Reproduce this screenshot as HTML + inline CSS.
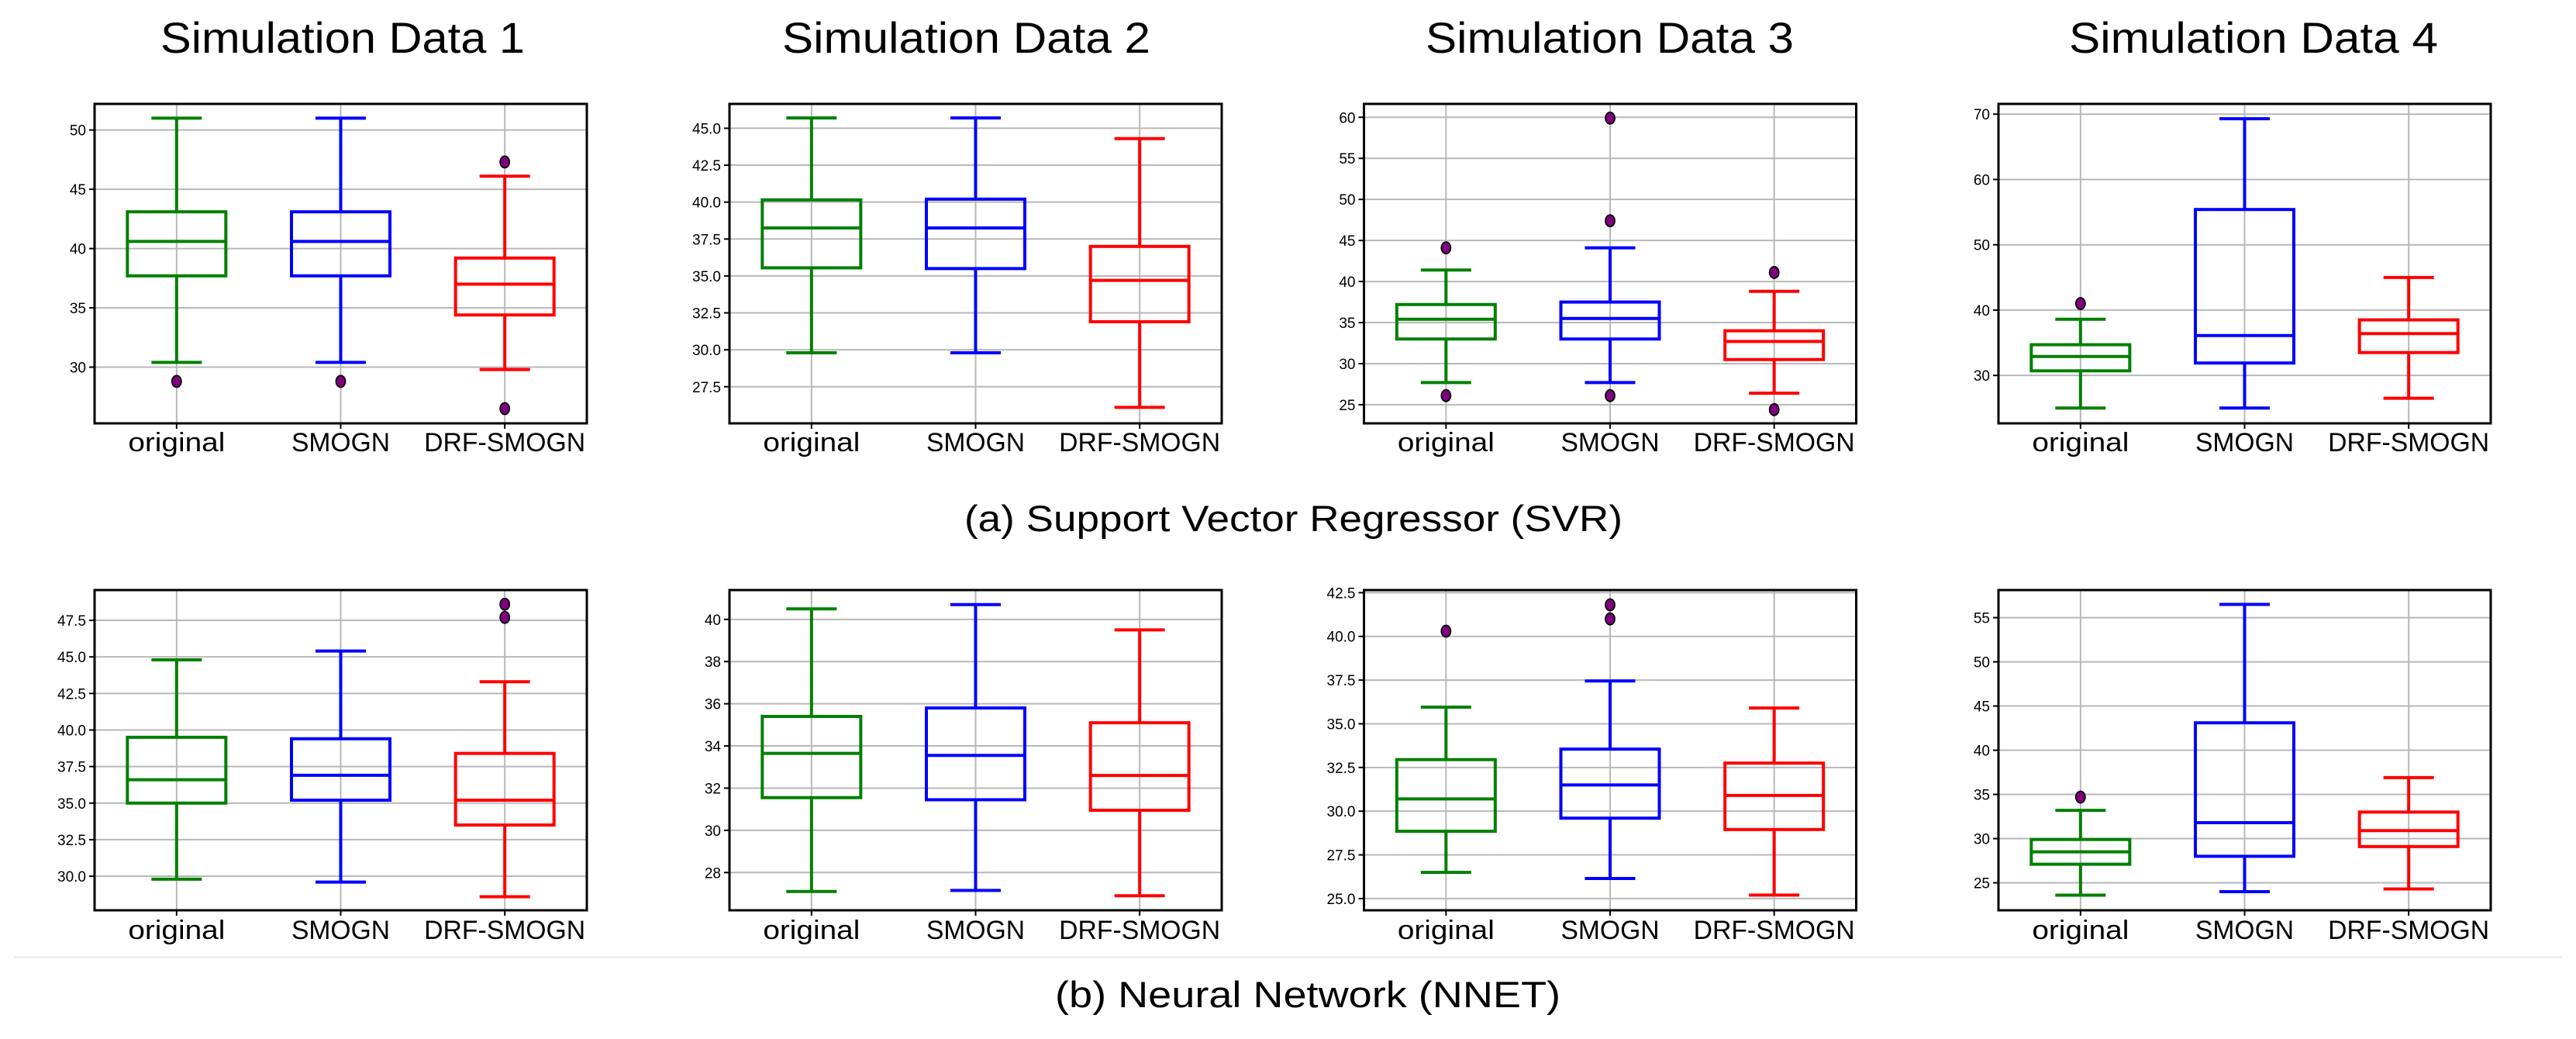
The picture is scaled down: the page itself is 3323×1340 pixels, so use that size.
<!DOCTYPE html>
<html><head><meta charset="utf-8"><style>
html,body{margin:0;padding:0;background:#fff;}
svg{display:block;}
</style></head><body>
<svg id="fig" width="3323" height="1340" viewBox="0 0 3323 1340" xmlns="http://www.w3.org/2000/svg" font-family="'Liberation Sans', 'DejaVu Sans', sans-serif">
<rect width="3323" height="1340" fill="#fff"/>
<text x="207" y="68" font-size="56" textLength="470" lengthAdjust="spacingAndGlyphs">Simulation Data 1</text>
<text x="1009" y="68" font-size="56" textLength="475" lengthAdjust="spacingAndGlyphs">Simulation Data 2</text>
<text x="1839" y="68" font-size="56" textLength="475" lengthAdjust="spacingAndGlyphs">Simulation Data 3</text>
<text x="2669" y="68" font-size="56" textLength="476" lengthAdjust="spacingAndGlyphs">Simulation Data 4</text>
<text x="1244" y="685" font-size="47" textLength="849" lengthAdjust="spacingAndGlyphs">(a) Support Vector Regressor (SVR)</text>
<line x1="18" y1="1234.5" x2="3305" y2="1234.5" stroke="#ececec" stroke-width="2"/>
<text x="1361" y="1299" font-size="47" textLength="652" lengthAdjust="spacingAndGlyphs">(b) Neural Network (NNET)</text>
</svg>
<script>
const categories = ["original", "SMOGN", "DRF-SMOGN"];
const colors = ["#008000", "#0000ff", "#ff0000"];
// each box: [lowWhisker, q1, median, q3, highWhisker]
const svr1 = [[30.4,37.7,40.6,43.1,51.0],[30.4,37.7,40.6,43.1,51.0],[29.8,34.4,37.0,39.2,46.1]];
const svr1Out = [[28.8],[28.8],[47.3,26.5]];
const svr1Ticks = [30,35,40,45,50];
const svr1Domain = [25.26,52.2];
const svr2 = [[29.8,35.55,38.25,40.15,45.7],[29.8,35.5,38.25,40.2,45.7],[26.1,31.9,34.7,37.0,44.3]];
const svr2Out = [[],[],[]];
const svr2Ticks = [27.5,30.0,32.5,35.0,37.5,40.0,42.5,45.0];
const svr2Domain = [25.02,46.65];
const svr3 = [[27.7,33.0,35.4,37.2,41.4],[27.7,33.0,35.5,37.5,44.1],[26.4,30.5,32.7,34.0,38.8]];
const svr3Out = [[44.1,26.1],[59.9,47.4,26.1],[41.1,24.4]];
const svr3Ticks = [25,30,35,40,45,50,55,60];
const svr3Domain = [22.73,61.63];
const svr4 = [[25.0,30.7,32.9,34.7,38.6],[25.0,31.9,36.1,55.4,69.3],[26.5,33.5,36.4,38.5,45.0]];
const svr4Out = [[41.0],[],[]];
const svr4Ticks = [30,40,50,60,70];
const svr4Domain = [22.66,71.57];
const nn1 = [[29.8,35.0,36.6,39.5,44.8],[29.6,35.2,36.9,39.4,45.4],[28.6,33.5,35.2,38.4,43.3]];
const nn1Out = [[],[],[48.6,47.7]];
const nn1Ticks = [30.0,32.5,35.0,37.5,40.0,42.5,45.0,47.5];
const nn1Domain = [27.67,49.57];
const nn2 = [[27.1,31.55,33.65,35.4,40.5],[27.15,31.45,33.55,35.8,40.7],[26.9,30.95,32.6,35.1,39.5]];
const nn2Out = [[],[],[]];
const nn2Ticks = [28,30,32,34,36,38,40];
const nn2Domain = [26.21,41.39];
const nn3 = [[26.5,28.85,30.7,32.95,35.95],[26.15,29.6,31.5,33.55,37.45],[25.2,28.95,30.9,32.75,35.9]];
const nn3Out = [[40.3],[41.8,41.0],[]];
const nn3Ticks = [25.0,27.5,30.0,32.5,35.0,37.5,40.0,42.5];
const nn3Domain = [24.33,42.65];
const nn4 = [[23.6,27.1,28.5,29.9,33.2],[24.0,28.0,31.8,43.1,56.5],[24.3,29.1,30.9,33.0,36.9]];
const nn4Out = [[34.7],[],[]];
const nn4Ticks = [25,30,35,40,45,50,55];
const nn4Domain = [21.89,58.12];

const NS = "http://www.w3.org/2000/svg";
const svg = document.getElementById("fig");
function mk(tag, attrs, parent){
  const e = document.createElementNS(NS, tag);
  for (const k in attrs) e.setAttribute(k, attrs[k]);
  (parent||svg).appendChild(e);
  return e;
}
const lefts = [122, 941, 1759.5, 2578];
const W = 635;
const rows = [{top:134,bottom:546,lab:582},{top:761,bottom:1174,lab:1211}];
const panels = [
 [svr1,svr1Out,svr1Ticks,svr1Domain,0,0,"svr-sim1"],
 [svr2,svr2Out,svr2Ticks,svr2Domain,0,1,"svr-sim2"],
 [svr3,svr3Out,svr3Ticks,svr3Domain,0,2,"svr-sim3"],
 [svr4,svr4Out,svr4Ticks,svr4Domain,0,3,"svr-sim4"],
 [nn1,nn1Out,nn1Ticks,nn1Domain,1,0,"nnet-sim1"],
 [nn2,nn2Out,nn2Ticks,nn2Domain,1,1,"nnet-sim2"],
 [nn3,nn3Out,nn3Ticks,nn3Domain,1,2,"nnet-sim3"],
 [nn4,nn4Out,nn4Ticks,nn4Domain,1,3,"nnet-sim4"]
];
panels.forEach(p=>{
  const [boxes,outs,ticks,dom,ri,ci,name] = p;
  const r = rows[ri], L = lefts[ci], R = L+W;
  const g = mk("g",{});
  
  
  const y = v => r.bottom - (v-dom[0])/(dom[1]-dom[0])*(r.bottom-r.top);
  const x = i => L + W*(i+0.5)/3;
  const fmt = ticks.some(t=>t%1!==0);
  ticks.forEach(t=>{
    const yy = y(t);
    const gl = mk("line",{x1:L,x2:R,y1:yy,y2:yy,stroke:"#b8b8b8","stroke-width":2},g);
    
    
    mk("line",{x1:L-7,x2:L,y1:yy,y2:yy,stroke:"#000","stroke-width":2},g);
    const tl = mk("text",{x:L-11,y:yy+7,"font-size":19,"text-anchor":"end",fill:"#000"},g);
    tl.textContent = fmt ? t.toFixed(1) : String(t);
    
    
  });
  categories.forEach((c,i)=>{
    const xx = x(i);
    mk("line",{x1:xx,x2:xx,y1:r.top,y2:r.bottom,stroke:"#b8b8b8","stroke-width":2},g);
    mk("line",{x1:xx,x2:xx,y1:r.bottom,y2:r.bottom+7,stroke:"#000","stroke-width":2},g);
    const xl = mk("text",{x:xx,y:r.lab,"font-size":34,"text-anchor":"middle",fill:"#000",textLength: c==="original"?125:(c==="SMOGN"?127:208),lengthAdjust:"spacingAndGlyphs"},g);
    xl.textContent = c;
    
    
  });
  boxes.forEach((b,i)=>{
    const xx = x(i), col = colors[i], bw = 127, cw = 65;
    const bg = mk("g",{stroke:col,"stroke-width":4,fill:"none"},g);
    
    
    mk("line",{x1:xx,x2:xx,y1:y(b[0]),y2:y(b[1])},bg);
    mk("line",{x1:xx,x2:xx,y1:y(b[3]),y2:y(b[4])},bg);
    mk("line",{x1:xx-cw/2,x2:xx+cw/2,y1:y(b[0]),y2:y(b[0])},bg);
    mk("line",{x1:xx-cw/2,x2:xx+cw/2,y1:y(b[4]),y2:y(b[4])},bg);
    mk("rect",{x:xx-bw/2,y:y(b[3]),width:bw,height:y(b[1])-y(b[3])},bg);
    mk("line",{x1:xx-bw/2,x2:xx+bw/2,y1:y(b[2]),y2:y(b[2])},bg);
    outs[i].forEach(o=>{
      const e = mk("ellipse",{cx:xx,cy:y(o),rx:6,ry:7.5,fill:"#800080",stroke:"#000","stroke-width":1.8},g);
      
      
    });
  });
  mk("rect",{x:L,y:r.top,width:W,height:r.bottom-r.top,fill:"none",stroke:"#000","stroke-width":3},g);
});
</script>
</body></html>
